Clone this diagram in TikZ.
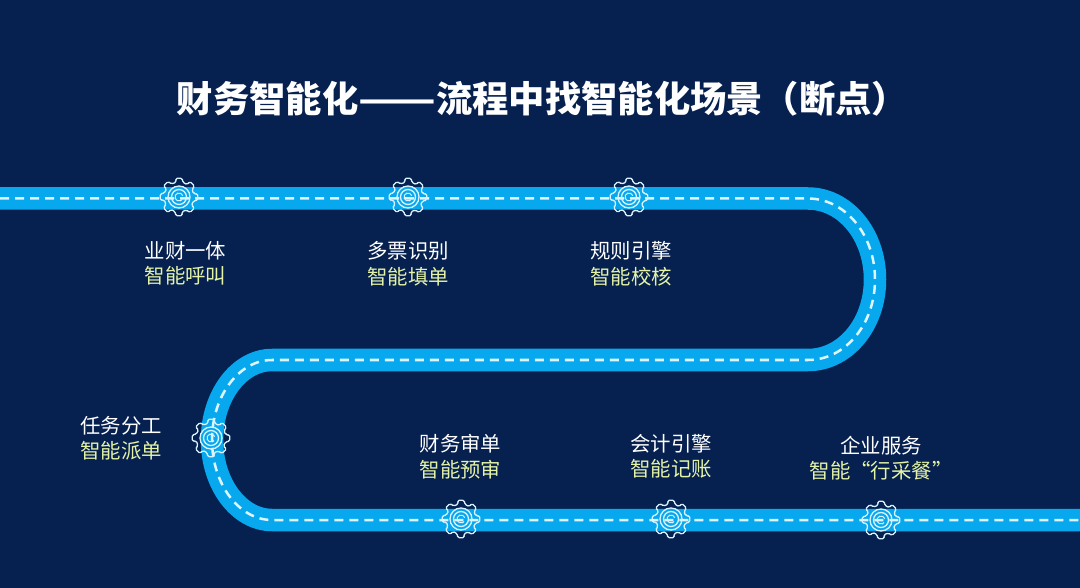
\documentclass[tikz,border=0pt]{standalone}
\usepackage{graphicx}
\usepackage{fontspec}
\setmainfont{Noto Sans CJK SC}
\usetikzlibrary{calc}
\usetikzlibrary{positioning}
\definecolor{bgblue}{HTML}{06204F}
\definecolor{bandblue}{HTML}{08A8EE}
\definecolor{dashblue}{HTML}{DDF5FF}
\definecolor{gearblue}{HTML}{D8F3FF}
\definecolor{labelgreen}{HTML}{E4F3A6}
\newcommand{\labelsize}{\fontsize{20.4}{25.5}\selectfont}
\tikzset{
	roadband/.style={draw=bandblue,line width=22.5pt},
	roaddash/.style={draw=dashblue,line width=2.5pt,dash pattern=on 9pt off 6pt},
	geartrack/.style={draw=gearblue,line width=1.3pt},
	gearnode/.style={circle,inner sep=0pt,minimum size=30pt},
	steptext/.style={align=center,text=white,font=\labelsize,inner sep=0pt}
}
\newcommand{\gear}[1]{
	\draw[geartrack,line join=round,rounded corners=1.5pt] ($(#1)+(-11:15)$) \foreach \a in {0,45,...,315} {
		-- ($(#1)+(\a-10:19)$) -- ($(#1)+(\a+10:19)$) -- ($(#1)+(\a+15:15)$) -- ($(#1)+(\a+34:15)$)
	} -- cycle;
	\draw[geartrack] (#1) circle (11pt);
	\draw[geartrack] (#1) circle (7.5pt);
	\draw[geartrack,line width=1pt] (#1) ++(20:4pt) arc (20:320:4pt);
}
\newcommand{\roadpath}{(in) -- (topr)
	.. controls +(37,0) and +(0,-45) .. (midr)
	.. controls +(0,45) and +(37,0) .. (botr) -- (topl)
	.. controls +(-33,0) and +(0,-44) .. (midl)
	.. controls +(0,44) and +(-33,0) .. (botl) -- (out)}
\begin{document}
\begin{tikzpicture}[x=1pt,y=-1pt,>=stealth]
		\useasboundingbox[fill=bgblue] (0,0) rectangle (1080,588);
		
		\coordinate (in)    at (0,198.5);
		\coordinate (topr)  at (808,198.5);
		\coordinate (midr)  at (875,279.5);
		\coordinate (botr)  at (808,360);
		\coordinate (topl)  at (272,360);
		\coordinate (midl)  at (212,440);
		\coordinate (botl)  at (272,520);
		\coordinate (out)   at (1080,520);
		
		\path[roadband] \roadpath;
		\path[roaddash] \roadpath;
		
		\node[gearnode] (g1) at (179,197) {};
		\node[gearnode] (g2) at (408,197) {};
		\node[gearnode] (g3) at (629,197) {};
		\node[gearnode] (g4) at (211,438) {};
		\node[gearnode] (g5) at (461,519) {};
		\node[gearnode] (g6) at (671,519) {};
		\node[gearnode] (g7) at (881,520) {};
		\foreach \n in {g1,g2,g3,g4,g5,g6,g7} {\gear{\n.center}}
		
		\node[text=white,font=\bfseries\fontsize{36.3}{40}\selectfont,inner sep=0pt] (title) at (542.5,99) {财务智能化\scalebox{1.25}[1]{——}流程中找智能化场景（断点）};
		
		\node[steptext] (t1) at (185.5,263.5) {业财一体\\\textcolor{labelgreen}{智能呼叫}};
		\node[steptext] (t2) at (408,263.5) {多票识别\\\textcolor{labelgreen}{智能填单}};
		\node[steptext] (t3) at (631,263.5) {规则引擎\\\textcolor{labelgreen}{智能校核}};
		\node[steptext] (t4) at (121,438.5) {任务分工\\\textcolor{labelgreen}{智能派单}};
		\node[steptext] (t5) at (460.5,456.5) {财务审单\\\textcolor{labelgreen}{智能预审}};
		\node[steptext] (t6) at (671,456.5) {会计引擎\\\textcolor{labelgreen}{智能记账}};
		\node[steptext] (t7) at (881,458) {企业服务\\\textcolor{labelgreen}{智能“行采餐”}};
\end{tikzpicture}
\end{document}
